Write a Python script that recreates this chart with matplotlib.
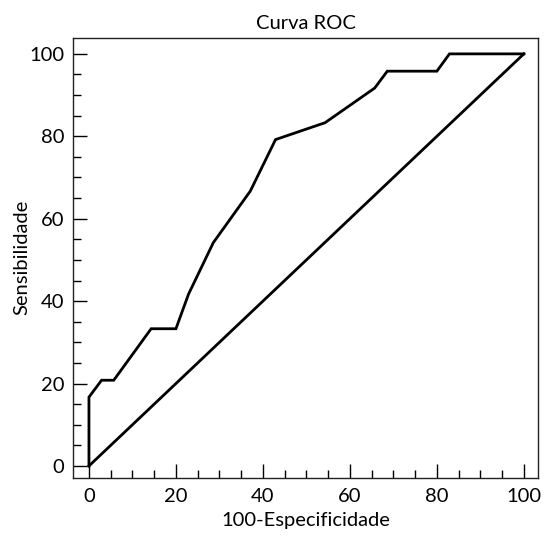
import numpy as np
import matplotlib
matplotlib.use('Agg')
import matplotlib.pyplot as plt
from matplotlib.ticker import MultipleLocator

plt.rcParams['font.family'] = ['Lato', 'DejaVu Sans']

# ROC curve points (100-specificity, sensitivity), in %
fpr = [0, 0, 2.9, 5.7, 14.3, 20.0, 22.9, 28.6, 37.1, 42.9, 54.3, 65.7, 68.6, 80.0, 82.9, 100]
tpr = [0, 16.7, 20.8, 20.8, 33.3, 33.3, 41.7, 54.2, 66.7, 79.2, 83.3, 91.7, 95.8, 95.8, 100, 100]
diag = [0, 100]

fig = plt.figure(figsize=(5.52, 5.40), dpi=100)
ax = fig.add_axes([0.132, 0.115, 0.843, 0.815])

ax.plot(fpr, tpr, color='black', linewidth=2, solid_joinstyle='miter')
ax.plot(diag, diag, color='black', linewidth=2)

ax.set_xlim(-3.7, 103.3)
ax.set_ylim(-2.9, 103.9)
ax.xaxis.set_major_locator(MultipleLocator(20))
ax.xaxis.set_minor_locator(MultipleLocator(5))
ax.yaxis.set_major_locator(MultipleLocator(20))
ax.yaxis.set_minor_locator(MultipleLocator(5))
ax.tick_params(which='both', direction='in', top=False, right=False, colors='black', labelsize=14.5)
ax.tick_params(which='major', length=10, width=1)
ax.tick_params(which='minor', length=6, width=1)
ax.tick_params(axis='x', pad=7)
ax.tick_params(axis='y', pad=6)
for s in ax.spines.values():
    s.set_linewidth(1)
    s.set_color('#222222')

ax.set_title('Curva ROC', fontsize=14.5, pad=6)
ax.set_xlabel('100-Especificidade', fontsize=14.5, labelpad=5)
ax.set_ylabel('Sensibilidade', fontsize=14.5, labelpad=-1)

fig.savefig('out.png', dpi=100)
